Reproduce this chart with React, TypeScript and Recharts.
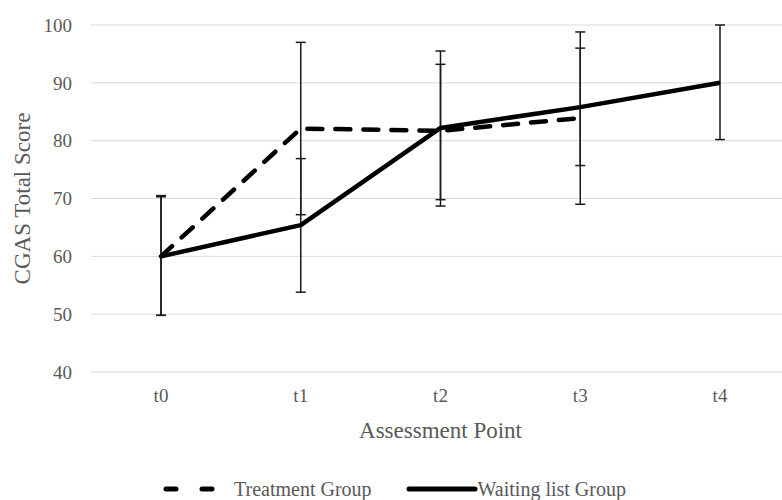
import React from 'react';
import { LineChart, Line, XAxis, YAxis, CartesianGrid, Legend, ErrorBar, Label } from 'recharts';

const categories = ['t0', 't1', 't2', 't3', 't4'];
const treatment = [60, 82.1, 81.7, 83.9, null];
const treatmentErr = [[10.2, 10.5], [14.9, 14.9], [13.0, 13.8], [14.9, 14.9], null];
const waiting = [60, 65.4, 82.2, 85.8, 90];
const waitingErr = [[10.2, 10.3], [11.6, 11.5], [12.4, 11.0], [10.1, 10.2], [9.8, 10]];
const yTicks = [40, 50, 60, 70, 80, 90, 100];

const data = categories.map((name, i) => ({
    name,
    treatment: treatment[i],
    treatmentErr: treatmentErr[i],
    waiting: waiting[i],
    waitingErr: waitingErr[i],
}));

const FONT = '"Liberation Serif", "Times New Roman", serif';
const TEXT = '#595959';

const renderLegend = () => (
    <div style={{ display: 'flex', alignItems: 'center', paddingLeft: 163, paddingTop: 14, height: 22, fontFamily: FONT, fontSize: 20, color: TEXT }}>
        <svg width={56} height={10} style={{ marginRight: 15 }}>
            <line x1={3} y1={5} x2={52} y2={5} stroke="#000" strokeWidth={5} strokeLinecap="round" strokeDasharray="10 26" />
        </svg>
        <span style={{ marginRight: 34 }}>Treatment Group</span>
        <svg width={72} height={10}>
            <line x1={3} y1={5} x2={69} y2={5} stroke="#000" strokeWidth={5} strokeLinecap="round" />
        </svg>
        <span>Waiting list Group</span>
    </div>
);

export default function App() {
    return (
        <div style={{ position: 'absolute', left: 0, top: 0, width: 782, height: 500, overflow: 'hidden', background: '#fff' }}>
            <LineChart width={800} height={500} data={data} margin={{ top: 25, right: 10, left: 0, bottom: 0 }}>
                <CartesianGrid vertical={false} stroke="#d9d9d9" />
                <XAxis dataKey="name" axisLine={false} tickLine={false} tickSize={0} tickMargin={17} height={92}
                    padding={{ left: 70, right: 70 }}
                    tick={{ fill: TEXT, fontSize: 19, fontFamily: FONT }}>
                    <Label value="Assessment Point" position="insideTop" offset={50} fill={TEXT} fontSize={23} fontFamily={FONT} />
                </XAxis>
                <YAxis domain={[40, 100]} ticks={yTicks} axisLine={false} tickLine={false} tickSize={0} tickMargin={19} width={91}
                    tick={{ fill: TEXT, fontSize: 19, fontFamily: FONT }}>
                    <Label value="CGAS Total Score" angle={-90} position="insideLeft" offset={22} fill={TEXT} fontSize={23} fontFamily={FONT} style={{ textAnchor: 'middle' }} />
                </YAxis>
                <Legend verticalAlign="bottom" content={renderLegend} wrapperStyle={{ left: 0, bottom: 0, width: 782, height: 36 }} />
                <Line dataKey="treatment" stroke="#000" strokeWidth={4.5} strokeDasharray="15 13" strokeLinecap="round" dot={false} isAnimationActive={false} connectNulls={false}>
                    <ErrorBar dataKey="treatmentErr" width={5} stroke="#1a1a1a" strokeWidth={1.5} isAnimationActive={false} />
                </Line>
                <Line dataKey="waiting" stroke="#000" strokeWidth={4.5} strokeLinejoin="round" dot={false} isAnimationActive={false}>
                    <ErrorBar dataKey="waitingErr" width={5} stroke="#1a1a1a" strokeWidth={1.5} isAnimationActive={false} />
                </Line>
            </LineChart>
        </div>
    );
}
